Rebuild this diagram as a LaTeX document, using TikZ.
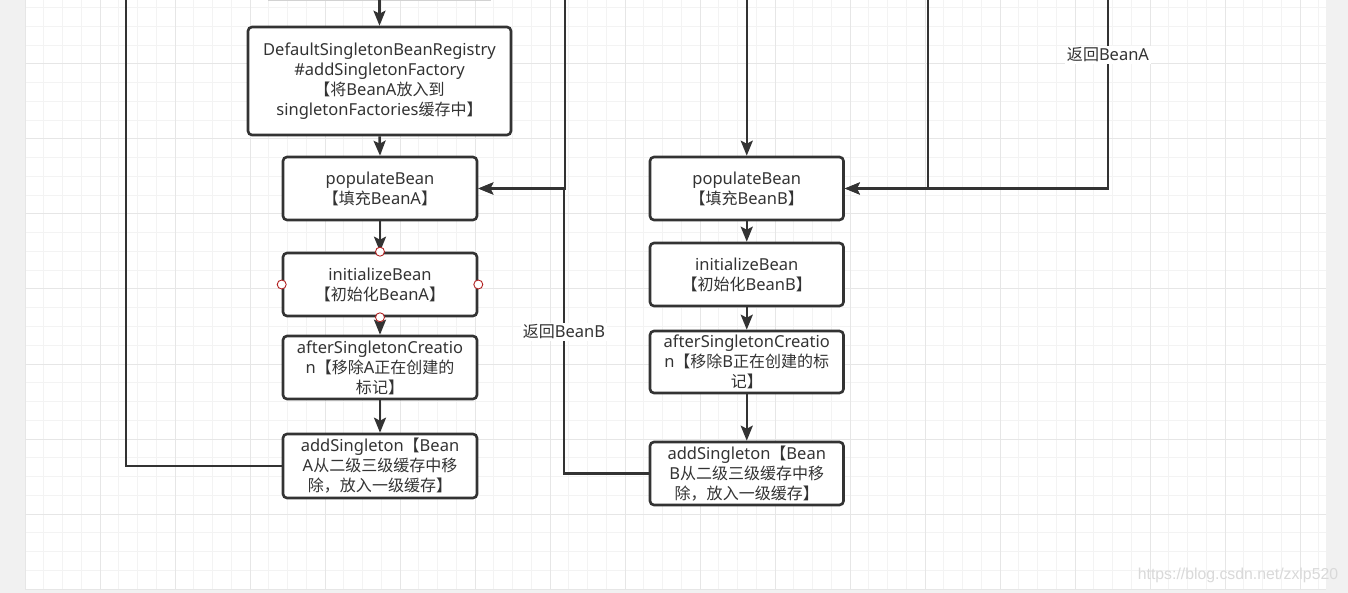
\documentclass[tikz,border=0pt]{standalone}
\usepackage{fontspec}
\setmainfont{Noto Sans}
\newfontfamily\zhf[Scale=0.97]{Noto Sans CJK SC}
\newfontfamily\wmf{Liberation Sans}
\newcommand\zh[1]{{\zhf #1}}
\usetikzlibrary{arrows.meta}
\definecolor{ink}{HTML}{333333}
\definecolor{pagegrey}{HTML}{F1F1F1}
\definecolor{gridminor}{HTML}{F3F3F3}
\definecolor{gridmajor}{HTML}{E6E6E6}
\definecolor{handlered}{HTML}{B22222}
\tikzset{
  stepbox/.style={draw=ink, line width=2.6pt, rounded corners=4pt, fill=white,
    text=ink, inner sep=0pt, align=center, font=\fontsize{16.5}{20}\selectfont},
  conn/.style={draw=ink, line width=2.5pt},
  arr/.style={conn, -{Stealth[length=15pt,width=12pt,inset=3pt]}},
  lbl/.style={fill=white, text=ink, inner sep=1.5pt, font=\fontsize{16.5}{20}\selectfont},
  handle/.style={draw=handlered, line width=0.9pt, fill=white},
}
\begin{document}
\begin{tikzpicture}[x=1pt,y=-1pt]
\useasboundingbox (0,0) rectangle (1348,593);
% page and grid
\fill[pagegrey] (0,0) rectangle (1348,593);
\fill[white] (25,0) rectangle (1326,589);
\foreach \i in {0,...,69}{
  \pgfmathsetmacro\xx{25+18.75*\i}
  \draw[gridminor, line width=1pt] (\xx,0) -- (\xx,589);
}
\foreach \j in {0,...,31}{
  \pgfmathsetmacro\yy{7.75+18.75*\j}
  \draw[gridminor, line width=1pt] (25,\yy) -- (1326,\yy);
}
\foreach \i in {0,...,17}{
  \pgfmathsetmacro\xx{25+75*\i}
  \draw[gridmajor, line width=1pt] (\xx,0) -- (\xx,589);
}
\foreach \j in {0,...,7}{
  \pgfmathsetmacro\yy{64+75*\j}
  \draw[gridmajor, line width=1pt] (25,\yy) -- (1326,\yy);
}
% faint bottom of a box above the view
\draw[gray!35, line width=1pt] (268,0.5) -- (491,0.5);

% column A
\node[stepbox, minimum width=263pt, minimum height=108pt] (A1) at (379.5,81)
  {DefaultSingletonBeanRegistry\\\#addSingletonFactory\\\zh{【将}BeanA\zh{放入到}\\singletonFactories\zh{缓存中】}};
\node[stepbox, minimum width=194pt, minimum height=63pt] (A2) at (380,188.5)
  {populateBean\\\zh{【填充}BeanA\zh{】}};
\node[stepbox, minimum width=194pt, minimum height=63pt] (A3) at (380,284.5)
  {initializeBean\\\zh{【初始化}BeanA\zh{】}};
\node[stepbox, minimum width=194pt, minimum height=63pt] (A4) at (380,367.5)
  {afterSingletonCreatio\\n\zh{【移除}A\zh{正在创建的}\\\zh{标记】}};
\node[stepbox, minimum width=194pt, minimum height=64pt] (A5) at (380,466)
  {addSingleton\zh{【}Bean\\A\zh{从二级三级缓存中移}\\\zh{除，放入一级缓存】}};

% column B
\node[stepbox, minimum width=193.5pt, minimum height=63pt] (B2) at (746.75,188.5)
  {populateBean\\\zh{【填充}BeanB\zh{】}};
\node[stepbox, minimum width=193.5pt, minimum height=63pt] (B3) at (746.75,274.5)
  {initializeBean\\\zh{【初始化}BeanB\zh{】}};
\node[stepbox, minimum width=193.5pt, minimum height=62pt] (B4) at (746.75,362)
  {afterSingletonCreatio\\n\zh{【移除}B\zh{正在创建的标}\\\zh{记】}};
\node[stepbox, minimum width=193.5pt, minimum height=63pt] (B5) at (746.75,473.5)
  {addSingleton\zh{【}Bean\\B\zh{从二级三级缓存中移}\\\zh{除，放入一级缓存】}};

% free ends at the top edge
\coordinate (tA1) at (379.5,0);
\coordinate (tL) at (126,0);
\coordinate (tM) at (565,0);
\coordinate (tB) at (746.75,0);
\coordinate (tR1) at (928,0);
\coordinate (tR2) at (1108,0);
\coordinate (jM) at (564,188.5);
\coordinate (jR) at (928,188.5);
\coordinate (jR2) at (1108,188.5);

% connectors column A
\draw[arr] (tA1) -- (A1.north);
\draw[arr] (A1.south) -- (A2.north);
\draw[arr] (A2.south) -- (A3.north);
\draw[arr] (A3.south) -- (A4.north);
\draw[arr] (A4.south) -- (A5.north);
\draw[conn] (A5.west) -| (tL);

% connectors into populateBean A
\draw[arr] (tM) |- (A2.east);
\draw[arr] (B5.west) -| (jM) -- (A2.east);
\node[lbl] (LB) at (564,332) {\zh{返回}BeanB};

% column B
\draw[arr] (tB) -- (B2.north);
\draw[arr] (B2.south) -- (B3.north);
\draw[arr] (B3.south) -- (B4.north);
\draw[arr] (B4.south) -- (B5.north);
\draw[arr] (tR1) |- (B2.east);
\draw[arr] (tR2) -- (jR2) -- (B2.east);
\node[lbl] (LA) at (1108,55) {\zh{返回}BeanA};

% connection handles on initializeBean A
\foreach \a in {north,south,east,west}
  \draw[handle] (A3.\a) circle[radius=4.5pt];

% watermark
\node[text=gray!30, font=\wmf\fontsize{15.8}{18}\selectfont, inner sep=0pt] (wm) at (1238,575) {https://blog.csdn.net/zxlp520};
\end{tikzpicture}
\end{document}
